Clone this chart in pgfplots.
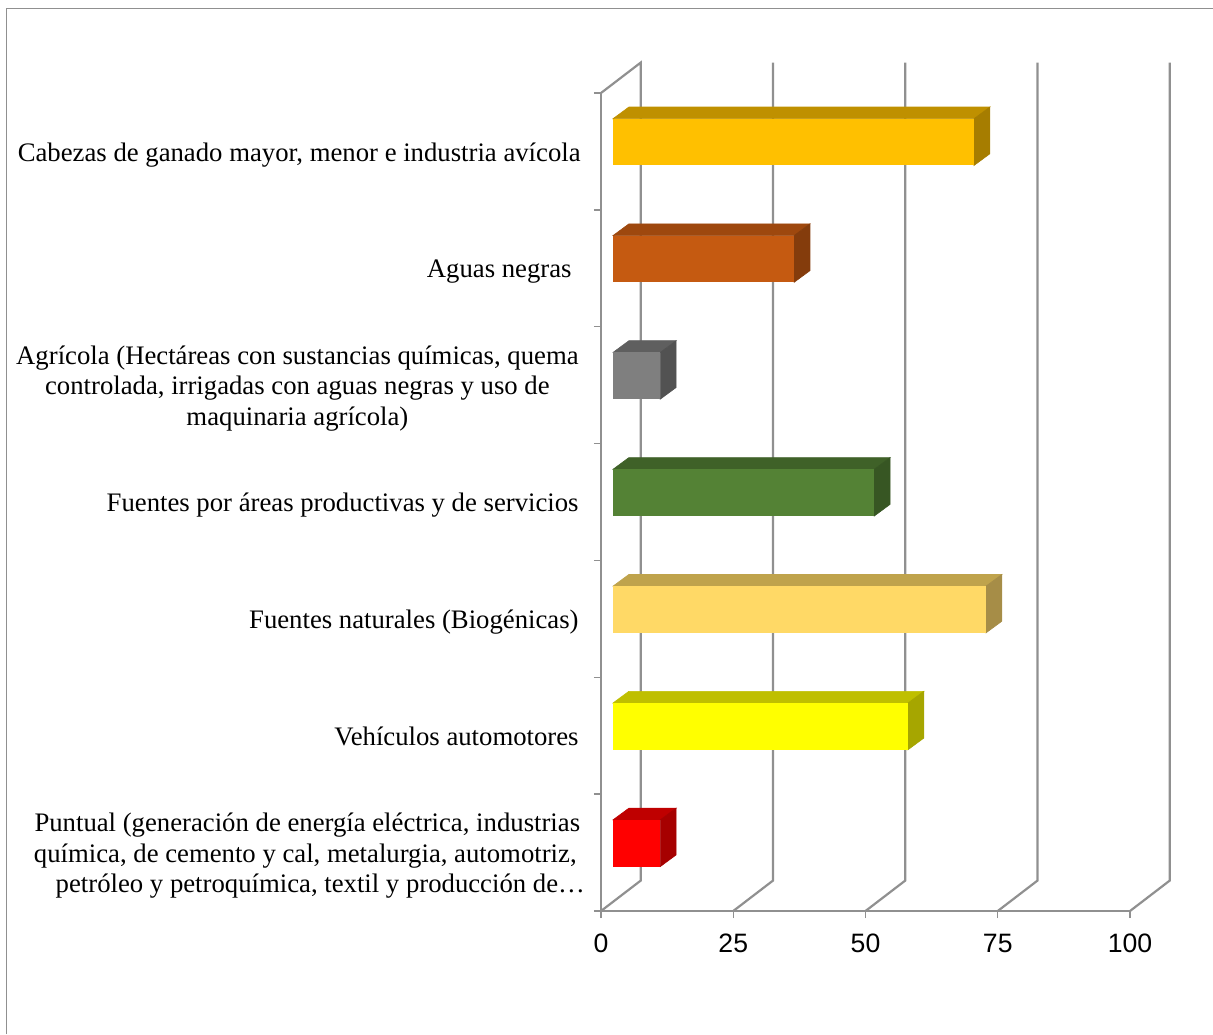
\documentclass[border=0pt]{standalone}
\usepackage{fontspec}
\setmainfont{Liberation Serif}
\newfontfamily\arialfont{Liberation Sans}
\usepackage{pgfplots}
\pgfplotsset{compat=1.18}
\definecolor{axisgray}{HTML}{909090}
\definecolor{goldF}{HTML}{FFC000}\definecolor{goldT}{HTML}{BF9000}\definecolor{goldS}{HTML}{A67D00}
\definecolor{rustF}{HTML}{C55A11}\definecolor{rustT}{HTML}{9E480E}\definecolor{rustS}{HTML}{843C0C}
\definecolor{greyF}{HTML}{7F7F7F}\definecolor{greyT}{HTML}{5F5F5F}\definecolor{greyS}{HTML}{525252}
\definecolor{grenF}{HTML}{548235}\definecolor{grenT}{HTML}{3F6128}\definecolor{grenS}{HTML}{375623}
\definecolor{sandF}{HTML}{FFD966}\definecolor{sandT}{HTML}{BFA34C}\definecolor{sandS}{HTML}{A68D47}
\definecolor{yellF}{HTML}{FFFF00}\definecolor{yellT}{HTML}{BFBF00}\definecolor{yellS}{HTML}{A6A600}
\definecolor{redF}{HTML}{FF0000}\definecolor{redT}{HTML}{BF0000}\definecolor{redS}{HTML}{A60000}
\tikzset{face/.style={fill=#1, draw=#1, line width=0.3pt}}
\begin{document}
\begin{tikzpicture}
% 1 px of the reference = 0.5pt
\path[use as bounding box] (0,0) rectangle (606.5pt,517pt);
\draw[axisgray,line width=0.7pt] (3.3pt,0) -- (3.3pt,512.7pt) -- (606.5pt,512.7pt);
\begin{axis}[
    at={(300.5pt,61.5pt)}, anchor=south west,
    scale only axis, width=264.5pt, height=409pt,
    xmin=0, xmax=100, ymin=0, ymax=7,
    clip=false,
    axis x line=bottom, axis y line=left,
    axis line style={-, draw=axisgray, line width=1.1pt},
    tick align=outside,
    major tick length=3.6pt,
    tick style={draw=axisgray, line width=0.7pt},
    xtick={0,25,50,75,100},
    xticklabel style={font=\fontsize{13.3}{15}\arialfont, yshift=-4.5pt},
    /pgf/number format/assume math mode=true,
    ytick={0,1,2,3,4,5,6,7},
    yticklabels={},
    extra y ticks={0.5,1.5,2.5,3.5,4.5,5.5,6.5},
    extra y tick style={major tick length=0pt},
    extra y tick labels={
        {\strut Puntual (generación de energía eléctrica, industrias\kern-1pt\\química, de cemento y cal, metalurgia, automotriz,\kern1pt\\\strut\makebox[270pt][r]{petróleo y petroquímica, textil y producción de…\kern-4.25pt}},
        {\strut Vehículos automotores},
        {\strut Fuentes naturales (Biogénicas)},
        {\strut Fuentes por áreas productivas y de servicios},
        {\strut Agrícola (Hectáreas con sustancias químicas, quema\\controlada, irrigadas con aguas negras y uso de\\\strut maquinaria agrícola)},
        {\strut Aguas negras\hspace*{3.5pt}},
        {\strut Cabezas de ganado mayor, menor e industria avícola\kern-1pt}},
    yticklabel style={font=\fontsize{13.36}{15.25}\selectfont, align=center, anchor=east, inner sep=0pt, xshift=-11pt, yshift=-1.8pt},
]
% back wall and floor lines
\addplot[axisgray, line width=1.1pt] coordinates {(0,7) (7.5,7.26) (7.5,0.26) (0,0)};
\addplot[axisgray, line width=1.1pt] coordinates {(25,0) (32.5,0.26) (32.5,7.26)};
\addplot[axisgray, line width=1.1pt] coordinates {(50,0) (57.5,0.26) (57.5,7.26)};
\addplot[axisgray, line width=1.1pt] coordinates {(75,0) (82.5,0.26) (82.5,7.26)};
\addplot[axisgray, line width=1.1pt] coordinates {(100,0) (107.5,0.26) (107.5,7.26)};

% Cabezas de ganado
\addplot[face=goldT] coordinates {(2.27,6.78) (5.27,6.88) (73.51,6.88) (70.51,6.78)} --cycle;
\addplot[face=goldS] coordinates {(70.51,6.38) (73.51,6.48) (73.51,6.88) (70.51,6.78)} --cycle;
\addplot[fill=goldF, draw=none] coordinates {(2.27,6.38) (70.51,6.38) (70.51,6.78) (2.27,6.78)} --cycle;
% Aguas negras
\addplot[face=rustT] coordinates {(2.27,5.78) (5.27,5.88) (39.5,5.88) (36.5,5.78)} --cycle;
\addplot[face=rustS] coordinates {(36.5,5.38) (39.5,5.48) (39.5,5.88) (36.5,5.78)} --cycle;
\addplot[fill=rustF, draw=none] coordinates {(2.27,5.38) (36.5,5.38) (36.5,5.78) (2.27,5.78)} --cycle;
% Agricola
\addplot[face=greyT] coordinates {(2.27,4.78) (5.27,4.88) (14.2,4.88) (11.2,4.78)} --cycle;
\addplot[face=greyS] coordinates {(11.2,4.38) (14.2,4.48) (14.2,4.88) (11.2,4.78)} --cycle;
\addplot[fill=greyF, draw=none] coordinates {(2.27,4.38) (11.2,4.38) (11.2,4.78) (2.27,4.78)} --cycle;
% Fuentes por areas
\addplot[face=grenT] coordinates {(2.27,3.78) (5.27,3.88) (54.65,3.88) (51.65,3.78)} --cycle;
\addplot[face=grenS] coordinates {(51.65,3.38) (54.65,3.48) (54.65,3.88) (51.65,3.78)} --cycle;
\addplot[fill=grenF, draw=none] coordinates {(2.27,3.38) (51.65,3.38) (51.65,3.78) (2.27,3.78)} --cycle;
% Fuentes naturales
\addplot[face=sandT] coordinates {(2.27,2.78) (5.27,2.88) (75.78,2.88) (72.78,2.78)} --cycle;
\addplot[face=sandS] coordinates {(72.78,2.38) (75.78,2.48) (75.78,2.88) (72.78,2.78)} --cycle;
\addplot[fill=sandF, draw=none] coordinates {(2.27,2.38) (72.78,2.38) (72.78,2.78) (2.27,2.78)} --cycle;
% Vehiculos
\addplot[face=yellT] coordinates {(2.27,1.78) (5.27,1.88) (61.03,1.88) (58.03,1.78)} --cycle;
\addplot[face=yellS] coordinates {(58.03,1.38) (61.03,1.48) (61.03,1.88) (58.03,1.78)} --cycle;
\addplot[fill=yellF, draw=none] coordinates {(2.27,1.38) (58.03,1.38) (58.03,1.78) (2.27,1.78)} --cycle;
% Puntual
\addplot[face=redT] coordinates {(2.27,0.78) (5.27,0.88) (14.2,0.88) (11.2,0.78)} --cycle;
\addplot[face=redS] coordinates {(11.2,0.38) (14.2,0.48) (14.2,0.88) (11.2,0.78)} --cycle;
\addplot[fill=redF, draw=none] coordinates {(2.27,0.38) (11.2,0.38) (11.2,0.78) (2.27,0.78)} --cycle;
\end{axis}
\end{tikzpicture}
\end{document}
